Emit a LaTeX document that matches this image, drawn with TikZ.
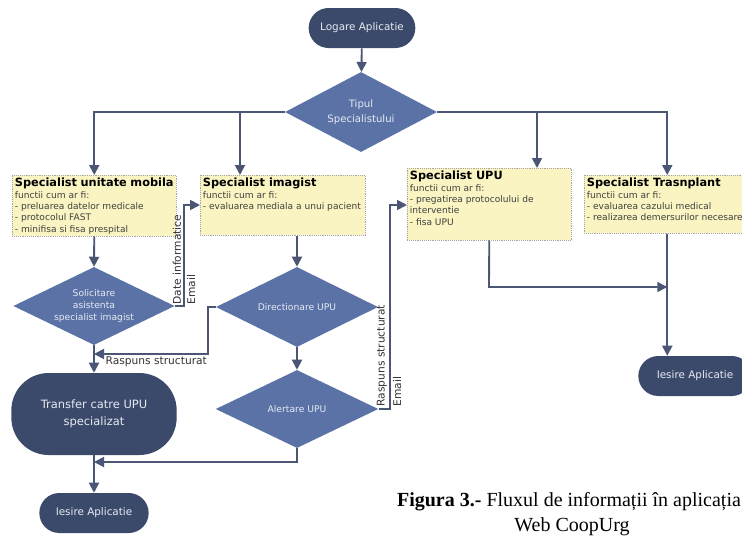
\documentclass[tikz,border=0pt]{standalone}
\usepackage{fontspec}
\setmainfont{Liberation Serif}
\setsansfont{DejaVu Sans}
\usetikzlibrary{shapes.geometric,arrows.meta}
\definecolor{pillblue}{HTML}{3B4A6B}
\definecolor{decblue}{HTML}{5A72A6}
\definecolor{notefill}{HTML}{FAF4C2}
\definecolor{linegray}{HTML}{4B5675}
\definecolor{shapetext}{HTML}{E6EAF2}
\newcommand{\roletitle}[1]{{\fontsize{8.5}{10}\selectfont\bfseries\color{black}#1}}
\tikzset{
  term/.style={rectangle, rounded corners=15pt, fill=pillblue, text=shapetext,
    font=\sffamily\fontsize{7.8}{10}\selectfont, minimum width=80pt, minimum height=30pt, inner sep=0pt},
  decision/.style={diamond, aspect=2, fill=decblue, text=shapetext, inner sep=0pt, align=center,
    font=\sffamily\fontsize{6.9}{8.7}\selectfont},
  rolebox/.style={rectangle, draw=gray!70, densely dotted, fill=notefill, anchor=north west,
    inner sep=2pt, text=black!75, font=\sffamily\fontsize{6.8}{8.6}\selectfont},
  flow/.style={draw=linegray, line width=1.4pt, -{Triangle[length=7.5pt,width=7.5pt]}},
  sidelabel/.style={font=\sffamily\fontsize{8}{9}\selectfont, text=black!80, inner sep=1pt},
  caption/.style={font=\fontsize{15}{18}\selectfont, anchor=base}
}
\begin{document}
\begin{tikzpicture}[x=0.75pt,y=-0.75pt]
\fill[white] (0,0) rectangle (742,536);
\useasboundingbox (0,0) rectangle (742,536);
% start and choice of specialist
\node[term] (login) at (362,28) {Logare Aplicatie};
\node[decision, minimum width=114pt, minimum height=60pt, font=\sffamily\fontsize{7.6}{11}\selectfont] (kind) at (361,112) {Tipul\\Specialistului};
% the four specialists
\node[rolebox] (mobile) at (12,175) {\parbox[t][41.75pt][t]{119pt}{\raggedright
  \roletitle{Specialist unitate mobila}\\functii cum ar fi:\\- preluarea datelor medicale\\- protocolul FAST\\- minifisa si fisa prespital}};
\node[rolebox] (imaging) at (200,175) {\parbox[t][41pt][t]{119.75pt}{\raggedright
  \roletitle{Specialist imagist}\\functii cum ar fi:\\- evaluarea mediala a unui pacient}};
\node[rolebox] (upu) at (407,168) {\parbox[t][50pt][t]{119pt}{\raggedright
  \roletitle{Specialist UPU}\\functii cum ar fi:\\- pregatirea protocolului de\\interventie\\- fisa UPU}};
\node[rolebox] (transplant) at (584,175) {\parbox[t][39.5pt][t]{120.5pt}{\raggedright
  \roletitle{Specialist Trasnplant}\\functii cum ar fi:\\- evaluarea cazului medical\\- realizarea demersurilor necesare}};
% decisions
\node[decision, minimum width=121pt, minimum height=58.5pt] (ask) at (94,306) {Solicitare\\asistenta\\specialist imagist};
\node[decision, minimum width=121.5pt, minimum height=60pt] (route) at (297,307) {Directionare UPU};
\node[decision, minimum width=122pt, minimum height=58.5pt] (alert) at (297,409) {Alertare UPU};
% end points
\node[term, rounded corners=28pt, minimum width=124pt, minimum height=61.5pt, align=center,
  font=\sffamily\fontsize{8.6}{13}\selectfont] (transfer) at (94,414) {Transfer catre UPU\\specializat};
\node[term, minimum width=82pt] (exitA) at (94,513) {Iesire Aplicatie};
\node[term, minimum width=85pt] (exitB) at (695,376) {Iesire Aplicatie};
% connectors
\coordinate (toimg) at (240,112);
\coordinate (toupu) at (537,112);
\coordinate (dataup) at (184,205);
\coordinate (backleft) at (208,354);
\coordinate (backupu) at (390,205);
\coordinate (downleft) at (297,462);
\coordinate (upuout) at (489,287);
\draw[flow] (login) -- (kind);
\draw[flow] (kind.west) -| (mobile.north);
\draw[flow] (toimg) -- (toimg |- imaging.north);
\draw[flow] (kind.east) -| (transplant.north);
\draw[flow] (toupu) -- (toupu |- upu.north);
\draw[flow] (mobile.south) -- (ask.north);
\draw[flow] (ask.east) -| (dataup) -- (dataup -| imaging.west);
\draw[flow] (imaging.south -| route.north) -- (route.north);
\draw[flow] (route.south) -- (alert.north);
\draw[flow] (route.west) -| (backleft) -- (backleft -| ask.south);
\draw[flow] (ask.south) -- (transfer.north);
\draw[flow] (alert.east) -| (backupu) -- (backupu -| upu.west);
\draw[flow] (alert.south) -- (downleft) -- (downleft -| transfer.south);
\draw[flow] (transfer.south) -- (exitA.north);
\draw[flow] (upu.south) -- (upuout) -- (upuout -| transplant.south);
\draw[flow] (transplant.south) -- (transplant.south |- exitB.north);
% labels on the connectors
\node[sidelabel, rotate=90, anchor=south west] (dateLbl) at (182.5,306) {Date informatice};
\node[sidelabel, rotate=90, anchor=north west] (mailA) at (185.5,306) {Email};
\node[sidelabel, anchor=north west] (replyLbl) at (104,355) {Raspuns structurat};
\node[sidelabel, rotate=90, anchor=south west] (replyUp) at (388.5,408) {Raspuns structurat};
\node[sidelabel, rotate=90, anchor=north west] (mailB) at (391.5,408) {Email};
% caption
\node[caption] (capA) at (569,506) {\textbf{Figura 3.-} Fluxul de informații în aplicația};
\node[caption] (capB) at (572,531) {Web CoopUrg};
\end{tikzpicture}
\end{document}
